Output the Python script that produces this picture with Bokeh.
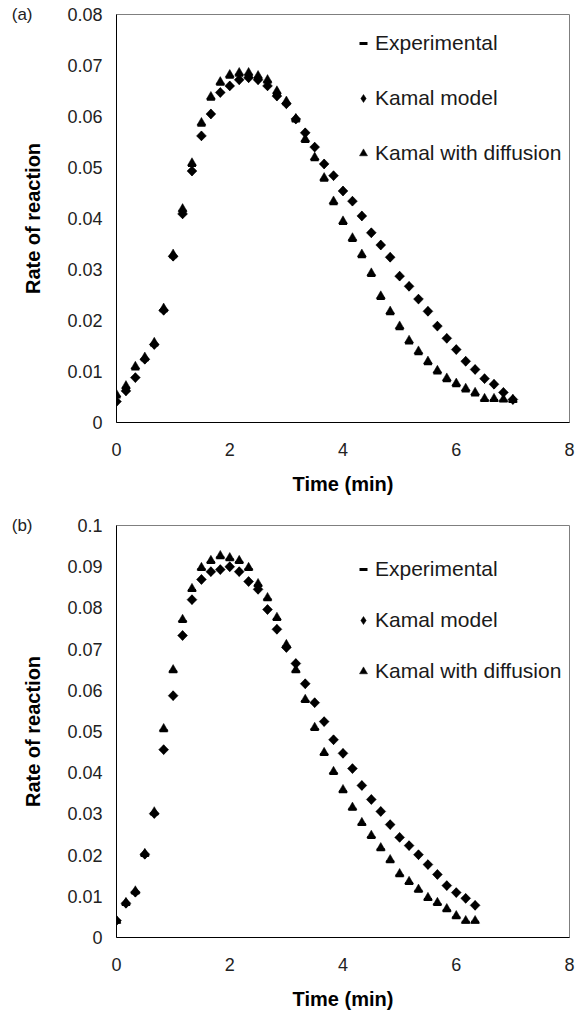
import numpy as np
from bokeh.plotting import figure
from bokeh.layouts import column
from bokeh.models import FixedTicker, Legend, LegendItem, LinearAxis, Range1d
from bokeh.embed import file_html
from bokeh.resources import INLINE

# ---------------- data: panel (a) ----------------
time_a = [0, 0.167, 0.333, 0.5, 0.667, 0.833, 1.0, 1.167, 1.333, 1.5, 1.667, 1.833,
          2.0, 2.167, 2.333, 2.5, 2.667, 2.833, 3.0, 3.167, 3.333, 3.5, 3.667, 3.833,
          4.0, 4.167, 4.333, 4.5, 4.667, 4.833, 5.0, 5.167, 5.333, 5.5, 5.667, 5.833,
          6.0, 6.167, 6.333, 6.5, 6.667, 6.833, 7.0]
exp_a = [0.0050, 0.0067, 0.0105, 0.0123, 0.0152, 0.0219, 0.0325, 0.0414, 0.0504, 0.0583,
         0.0634, 0.0663, 0.0677, 0.0681, 0.0681, 0.0675, 0.0667, 0.0645, 0.0625, 0.0591,
         0.0551, 0.0515, 0.0475, 0.0429, 0.0390, 0.0357, 0.0325, 0.0288, 0.0243, 0.0213,
         0.0184, 0.0156, 0.0135, 0.0115, 0.0097, 0.0082, 0.0072, 0.0062, 0.0054, 0.0043,
         0.0043, 0.0042, 0.0041]
kamal_a = [0.0041, 0.0062, 0.0088, 0.0124, 0.0153, 0.0220, 0.0326, 0.0409, 0.0493, 0.0562,
           0.0605, 0.0647, 0.0660, 0.0672, 0.0676, 0.0672, 0.0660, 0.0640, 0.0625, 0.0595,
           0.0568, 0.0540, 0.0507, 0.0484, 0.0454, 0.0434, 0.0405, 0.0372, 0.0348, 0.0324,
           0.0287, 0.0267, 0.0242, 0.0218, 0.0189, 0.0165, 0.0143, 0.0120, 0.0104, 0.0086,
           0.0075, 0.0059, 0.0045]
diff_a = [0.0055, 0.0072, 0.0110, 0.0128, 0.0157, 0.0224, 0.0330, 0.0419, 0.0509, 0.0588,
          0.0639, 0.0668, 0.0682, 0.0686, 0.0686, 0.0680, 0.0672, 0.0650, 0.0630, 0.0596,
          0.0556, 0.0520, 0.0480, 0.0434, 0.0395, 0.0362, 0.0330, 0.0293, 0.0248, 0.0218,
          0.0189, 0.0161, 0.0140, 0.0120, 0.0102, 0.0087, 0.0077, 0.0067, 0.0059, 0.0047,
          0.0047, 0.0046, 0.0045]

# ---------------- data: panel (b) ----------------
time_b = [0, 0.167, 0.333, 0.5, 0.667, 0.833, 1.0, 1.167, 1.333, 1.5, 1.667, 1.833,
          2.0, 2.167, 2.333, 2.5, 2.667, 2.833, 3.0, 3.167, 3.333, 3.5, 3.667, 3.833,
          4.0, 4.167, 4.333, 4.5, 4.667, 4.833, 5.0, 5.167, 5.333, 5.5, 5.667, 5.833,
          6.0, 6.167, 6.333]
exp_b = [0.0037, 0.0080, 0.0108, 0.0199, 0.0300, 0.0502, 0.0645, 0.0767, 0.0842, 0.0893,
         0.0910, 0.0922, 0.0917, 0.0910, 0.0893, 0.0854, 0.0820, 0.0772, 0.0706, 0.0645,
         0.0573, 0.0505, 0.0444, 0.0398, 0.0354, 0.0311, 0.0274, 0.0243, 0.0213, 0.0184,
         0.0150, 0.0131, 0.0112, 0.0092, 0.0080, 0.0065, 0.0048, 0.0037, 0.0037]
kamal_b = [0.0041, 0.0083, 0.0110, 0.0202, 0.0301, 0.0456, 0.0587, 0.0733, 0.0820, 0.0869,
           0.0888, 0.0893, 0.0900, 0.0888, 0.0864, 0.0845, 0.0796, 0.0748, 0.0704, 0.0665,
           0.0616, 0.0570, 0.0524, 0.0480, 0.0447, 0.0410, 0.0369, 0.0335, 0.0306, 0.0274,
           0.0243, 0.0223, 0.0201, 0.0177, 0.0153, 0.0126, 0.0109, 0.0095, 0.0078]
diff_b = [0.0041, 0.0085, 0.0113, 0.0204, 0.0305, 0.0507, 0.0650, 0.0772, 0.0847, 0.0898,
          0.0915, 0.0927, 0.0922, 0.0915, 0.0898, 0.0859, 0.0825, 0.0777, 0.0711, 0.0650,
          0.0578, 0.0510, 0.0449, 0.0403, 0.0359, 0.0316, 0.0279, 0.0248, 0.0218, 0.0189,
          0.0155, 0.0136, 0.0117, 0.0097, 0.0085, 0.0070, 0.0053, 0.0041, 0.0041]

x_ticks = [0, 2, 4, 6, 8]
y_ticks_a = [0, 0.01, 0.02, 0.03, 0.04, 0.05, 0.06, 0.07, 0.08]
y_labels_a = ["0", "0.01", "0.02", "0.03", "0.04", "0.05", "0.06", "0.07", "0.08"]
y_ticks_b = [0, 0.01, 0.02, 0.03, 0.04, 0.05, 0.06, 0.07, 0.08, 0.09, 0.1]
y_labels_b = ["0", "0.01", "0.02", "0.03", "0.04", "0.05", "0.06", "0.07", "0.08", "0.09", "0.1"]
series_names = ["Experimental", "Kamal model", "Kamal with diffusion"]
panel_tags = ["(a)", "(b)"]

FONT = "Liberation Sans"


def make_panel(t, ex, km, df, ymax, yticks, ylabels, tag, height, top, frame_h,
               legend_xy, legend_spacing):
    left, right = 116, 17
    p = figure(width=586, height=height, output_backend="svg", toolbar_location=None,
               x_range=Range1d(0, 8), y_range=Range1d(0, ymax),
               min_border_left=left, min_border_right=right, min_border_top=top,
               min_border_bottom=height - top - frame_h)
    p.xgrid.visible = False
    p.ygrid.visible = False
    p.outline_line_color = "#7f7f7f"
    p.outline_line_width = 1
    p.background_fill_color = "white"
    p.border_fill_color = "white"

    for ax in (p.xaxis[0], p.yaxis[0]):
        ax.axis_line_color = "black"
        ax.axis_line_width = 1
        ax.major_tick_line_color = None
        ax.minor_tick_line_color = None
        ax.major_tick_in = 0
        ax.major_tick_out = 0
        ax.major_label_text_font = FONT
        ax.major_label_text_font_size = "18px"
        ax.major_label_text_color = "#222222"
        ax.axis_label_text_font = FONT
        ax.axis_label_text_font_size = "20px"
        ax.axis_label_text_font_style = "bold"
        ax.axis_label_text_color = "black"

    p.xaxis.ticker = FixedTicker(ticks=x_ticks)
    p.xaxis.major_label_standoff = 20
    p.xaxis.axis_label = "Time (min)"
    p.xaxis.axis_label_standoff = 14

    p.yaxis.ticker = FixedTicker(ticks=yticks)
    p.yaxis.major_label_overrides = {v: s for v, s in zip(yticks, ylabels)}
    p.yaxis.major_label_standoff = 14
    p.yaxis.axis_label = "Rate of reaction"
    p.yaxis.axis_label_standoff = 20

    # outer left "axis" that only carries the panel tag, level with the top of the frame
    tag_axis = LinearAxis(ticker=FixedTicker(ticks=[ymax]),
                          major_label_overrides={ymax: tag},
                          axis_line_color=None, major_tick_line_color=None,
                          minor_tick_line_color=None, major_tick_in=0, major_tick_out=0,
                          major_label_standoff=-13,
                          major_label_text_font=FONT, major_label_text_font_size="17px",
                          major_label_text_color="#222222")
    p.add_layout(tag_axis, "left")

    r_exp = p.scatter(t, ex, marker="dash", size=8, line_width=3, line_color="black")
    # diamond marker (used for the legend) covered by a rotated square of the same centre
    r_km = p.scatter(t, km, marker="diamond", size=9.5,
                     fill_color="black", line_color="black", line_width=0.5)
    p.scatter(t, km, marker="square", angle=np.pi / 4, size=7,
              fill_color="black", line_color="black", line_width=0.5)
    r_df = p.scatter(t, df, marker="triangle", size=9,
                     fill_color="black", line_color="black", line_width=0.5)

    legend = Legend(items=[LegendItem(label=series_names[0], renderers=[r_exp]),
                           LegendItem(label=series_names[1], renderers=[r_km]),
                           LegendItem(label=series_names[2], renderers=[r_df])],
                    location=legend_xy, orientation="vertical",
                    label_text_font=FONT, label_text_font_size="21px",
                    label_text_color="#1a1a1a",
                    glyph_width=20, glyph_height=26, label_height=26,
                    label_standoff=2, spacing=legend_spacing, padding=5, margin=0,
                    border_line_color=None, background_fill_alpha=0)
    p.add_layout(legend, "center")
    return p


p1 = make_panel(time_a, exp_a, kamal_a, diff_a, 0.08, y_ticks_a, y_labels_a, panel_tags[0],
                505, 14, 408, (237, 256), 29)
p2 = make_panel(time_b, exp_b, kamal_b, diff_b, 0.1, y_ticks_b, y_labels_b, panel_tags[1],
                509, 20, 412, (237, 253), 25)

layout = column(p1, p2, spacing=0)
open("out.html", "w").write(file_html(layout, INLINE))
